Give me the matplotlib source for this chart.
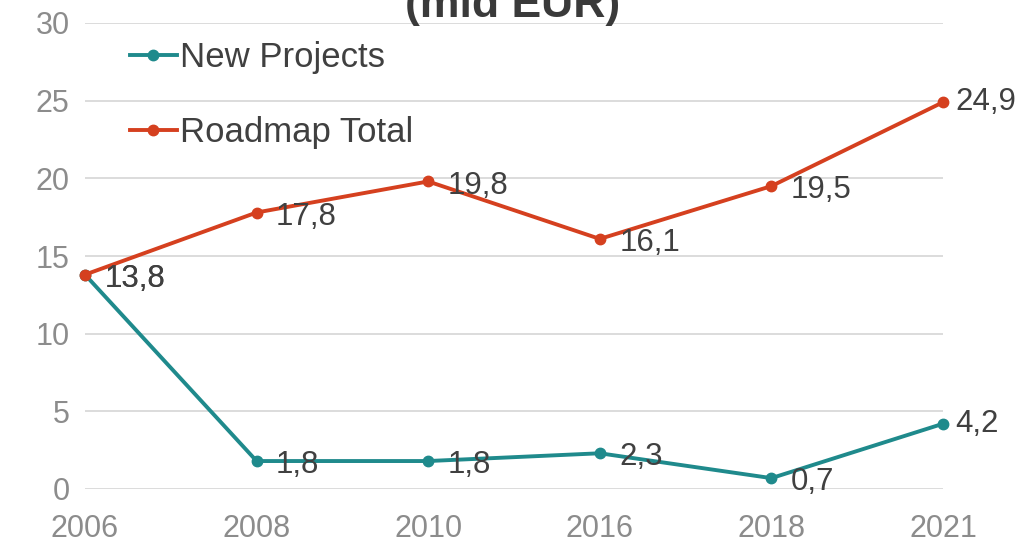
import matplotlib.pyplot as plt

years = ['2006', '2008', '2010', '2016', '2018', '2021']
new_projects = [13.8, 1.8, 1.8, 2.3, 0.7, 4.2]
roadmap_total = [13.8, 17.8, 19.8, 16.1, 19.5, 24.9]

teal = '#1f8a8c'
red = '#d5401f'
txt = '#404040'
grey = '#8c8c8c'

plt.rcParams['font.family'] = ['Liberation Sans', 'DejaVu Sans']

fig = plt.figure(figsize=(10.31, 5.42), dpi=100)
ax = fig.add_axes([85 / 1031, 1 - 489 / 542, 858 / 1031, 466 / 542])

x = list(range(len(years)))
ax.plot(x, new_projects, color=teal, lw=2.8, marker='o', ms=7.5, label='New Projects', clip_on=False, zorder=3)
ax.plot(x, roadmap_total, color=red, lw=2.8, marker='o', ms=7.5, label='Roadmap Total', clip_on=False, zorder=3)

for series in (new_projects, roadmap_total):
    for i, v in enumerate(series):
        dx, dy = (14, -3) if i < len(series) - 1 else (9, 0)
        ax.annotate(f'{v:.1f}'.replace('.', ','), (i, v), xytext=(dx, dy), textcoords='offset points',
                    ha='left', va='center', fontsize=22.5, color=txt, zorder=4)

ax.set_xlim(0, 5)
ax.set_ylim(0, 30)
ax.set_xticks(x)
ax.set_xticklabels(years)
ax.set_yticks(range(0, 31, 5))
ax.tick_params(axis='both', length=0, labelsize=22, labelcolor=grey)
ax.tick_params(axis='x', pad=18)
ax.tick_params(axis='y', pad=11)
ax.grid(axis='y', color='#d9d9d9', lw=1.3)
ax.set_axisbelow(True)
for s in ax.spines.values():
    s.set_visible(False)

leg = ax.legend(loc='upper left', bbox_to_anchor=(130 / 1031, 1 - 41 / 542), bbox_transform=fig.transFigure,
                frameon=False, fontsize=25, handlelength=1.35, handletextpad=0.1, labelspacing=1.2,
                borderpad=0, borderaxespad=0)
for t in leg.get_texts():
    t.set_color(txt)

fig.text(0.497, 1 - 17 / 542, '(mld EUR)', ha='center', va='baseline', fontsize=32, fontweight='bold', color='#3a3a3a')

fig.savefig('out.png', dpi=100)
